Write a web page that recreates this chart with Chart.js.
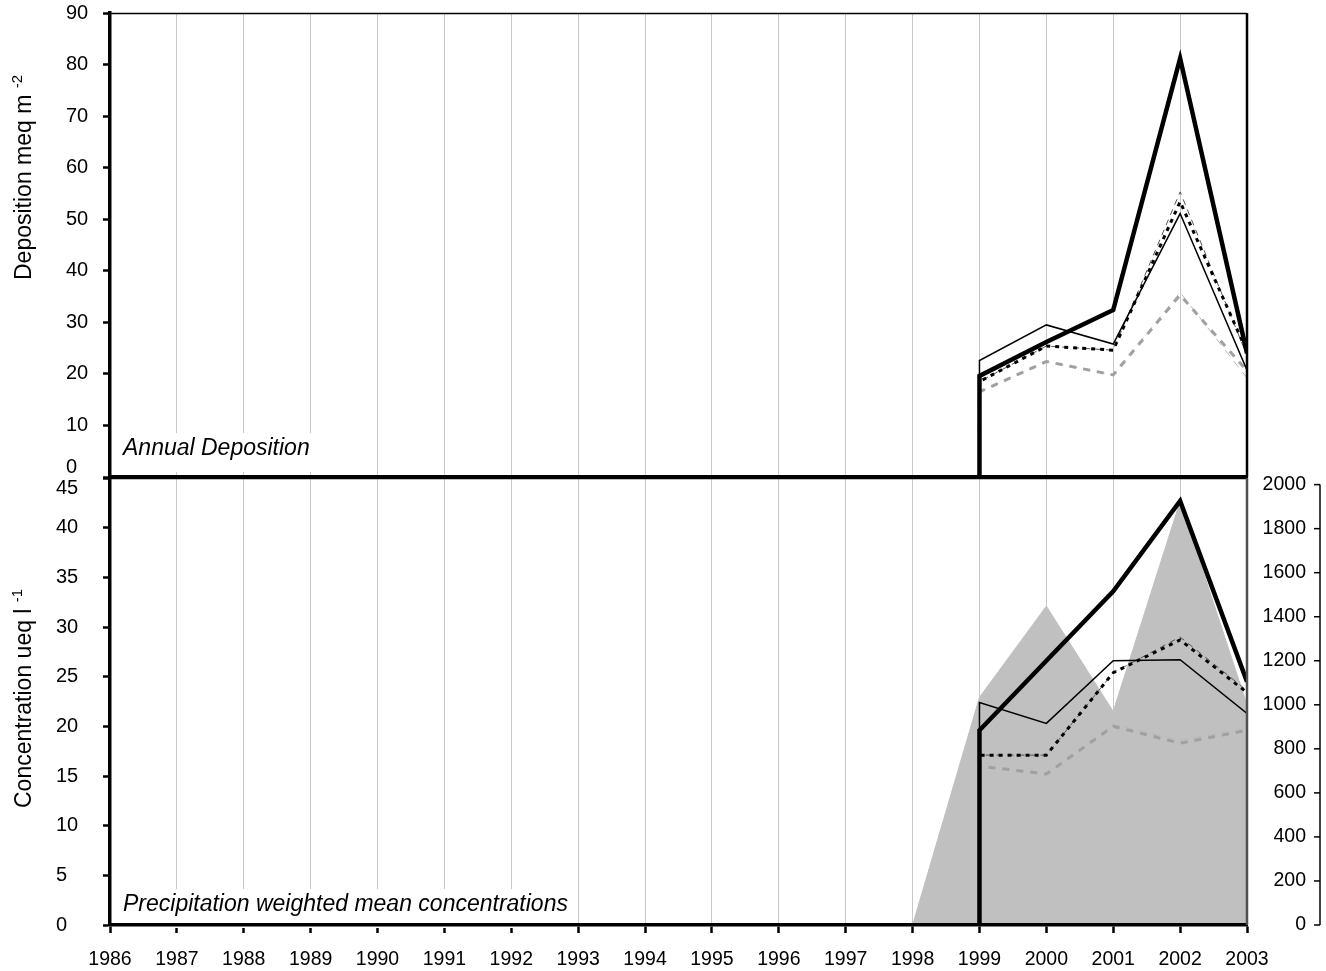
<!DOCTYPE html>
<html>
<head>
<meta charset="utf-8">
<title>Annual deposition and precipitation weighted mean concentrations</title>
<script src="https://cdn.jsdelivr.net/npm/chart.js@4.4.1/dist/chart.umd.min.js"></script>
<style>
  body { margin: 0; background: #fff; }
  #wrap { position: relative; width: 1326px; height: 971px; }
  canvas { position: absolute; left: 0; }
  #depChart { top: 0; }
  #concChart { top: 440px; }
</style>
</head>
<body>
<div id="wrap">
  <canvas id="depChart" width="1326" height="480"></canvas>
  <canvas id="concChart" width="1326" height="531"></canvas>
</div>
<script>
// X axis range (years)
const yearMin = 1986;
const yearMax = 2003;
const sampleYears = [1999, 2000, 2001, 2002, 2003];
const startYear = 1999; // every series rises from zero at the first sampling year

// Annual deposition, meq m-2
const depThick  = [19.6, 26.2, 32.4, 81.2, 24.0];
const depThin   = [22.6, 29.5, 25.8, 51.1, 20.7];
const depDotted = [18.5, 25.4, 24.6, 53.4, 24.3];
const depDashed = [18.5, 25.4, 24.6, 55.3, 23.6];
const depGrey   = [16.5, 22.4, 19.8, 35.3, 20.6];
const depLight  = [16.5, 22.4, 19.8, 35.8, 19.2];

// Precipitation weighted mean concentrations, ueq l-1
const concThick  = [19.6, 26.6, 33.6, 42.7, 24.5];
const concThin   = [22.4, 20.3, 26.6, 26.7, 21.3];
const concDotted = [17.1, 17.1, 25.4, 28.7, 23.4];
const concDashed = [17.1, 17.1, 25.4, 29.0, 23.6];
const concGrey   = [16.0, 15.2, 20.0, 18.3, 19.6];
const concLight  = [16.0, 15.2, 20.2, 18.6, 19.8];

// Precipitation (right axis)
const precipYears  = [1998, 1999, 2000, 2001, 2002, 2003];
const precipValues = [0, 1034, 1448, 970, 1924, 1000];
const precipTicks  = [0, 200, 400, 600, 800, 1000, 1200, 1400, 1600, 1800, 2000];

// Line styles, same order as the series above
const seriesStyles = [
    { color: '#000000', width: 4.5, dash: [] },
    { color: '#000000', width: 1.5, dash: [] },
    { color: '#000000', width: 3,   dash: [4, 5] },
    { color: '#555555', width: 1,   dash: [6, 5] },
    { color: '#a0a0a0', width: 3,   dash: [7, 7] },
    { color: '#b8b8b8', width: 1,   dash: [8, 6] }
];

const FONT = '"Liberation Sans", Arial, sans-serif';

const toPoints = vals => [{ x: startYear, y: 0 }].concat(sampleYears.map((yr, i) => ({ x: yr, y: vals[i] })));

const lineSets = (series, axis) => series.map((vals, i) => ({
    data: toPoints(vals),
    borderColor: seriesStyles[i].color,
    borderWidth: seriesStyles[i].width,
    borderDash: seriesStyles[i].dash,
    pointRadius: 0,
    tension: 0,
    fill: false,
    yAxisID: axis,
    order: i
}));

// Frame, italic note, rotated axis title and the detached right axis
const panelDecor = {
    id: 'panelDecor',
    beforeDatasetsDraw(chart, args, opts) {
        const { ctx, chartArea } = chart;
        const y = chartArea.bottom - opts.noteRise;
        ctx.save();
        ctx.font = 'italic 23px ' + FONT;
        const w = ctx.measureText(opts.note).width;
        ctx.fillStyle = '#fff';
        ctx.fillRect(chartArea.left + 6, y - 22, w + 16, 39);
        ctx.fillStyle = '#000';
        ctx.fillText(opts.note, chartArea.left + 13, y);
        ctx.restore();
    },
    afterDraw(chart, args, opts) {
        const { ctx, chartArea } = chart;
        ctx.save();
        ctx.strokeStyle = '#000';
        ctx.lineWidth = 1.5;
        ctx.beginPath();
        ctx.moveTo(chartArea.left, chartArea.top + 0.5);
        ctx.lineTo(chartArea.right, chartArea.top + 0.5);
        ctx.stroke();
        ctx.strokeStyle = opts.frameColor;
        ctx.lineWidth = 2.5;
        ctx.beginPath();
        ctx.moveTo(chartArea.right, chartArea.top);
        ctx.lineTo(chartArea.right, chartArea.bottom);
        ctx.stroke();

        ctx.translate(25, opts.titleStart);
        ctx.rotate(-Math.PI / 2);
        ctx.fillStyle = '#000';
        ctx.textBaseline = 'middle';
        ctx.font = '23px ' + FONT;
        ctx.fillText(opts.title, 0, 0);
        const tw = ctx.measureText(opts.title + ' ').width;
        ctx.font = '15px ' + FONT;
        ctx.fillText(opts.sup, tw, -7);
        ctx.restore();

        if (opts.rightAxis) {
            const s = chart.scales.y2;
            const ax = chartArea.right + 73;
            ctx.save();
            ctx.strokeStyle = '#000';
            ctx.lineWidth = 1.5;
            ctx.beginPath();
            ctx.moveTo(ax, s.getPixelForValue(precipTicks[0]));
            ctx.lineTo(ax, s.getPixelForValue(precipTicks[precipTicks.length - 1]));
            ctx.stroke();
            ctx.font = '19.5px ' + FONT;
            ctx.fillStyle = '#000';
            ctx.textAlign = 'right';
            ctx.textBaseline = 'middle';
            precipTicks.forEach(t => {
                const py = s.getPixelForValue(t);
                ctx.beginPath();
                ctx.moveTo(ax - 6, py);
                ctx.lineTo(ax, py);
                ctx.stroke();
                ctx.fillText(String(t), ax - 14, py);
            });
            ctx.restore();
        }
    }
};

// labels at the panel joint are nudged apart with an empty second line
const yAxis = (max, step, width, label) => ({
    min: 0,
    max: max,
    ticks: {
        stepSize: step,
        crossAlign: 'far',
        color: '#000',
        font: { family: FONT, size: 20, lineHeight: 1 },
        callback: label
    },
    grid: { drawOnChartArea: false, tickLength: 7, tickColor: '#000', tickWidth: 2.5 },
    border: { color: '#000', width: 3.5, z: 1 },
    afterFit: s => { s.width = width; s.paddingTop = 0; s.paddingBottom = 0; }
});

// Panel superior: deposición anual
const depChart = new Chart(document.getElementById('depChart'), {
    type: 'line',
    data: {
        datasets: lineSets([depThick, depThin, depDotted, depDashed, depGrey, depLight], 'y')
    },
    options: {
        responsive: false,
        animation: false,
        devicePixelRatio: 1,
        layout: { padding: { left: 66, right: 79, top: 13, bottom: 0 } },
        plugins: {
            legend: { display: false },
            tooltip: { enabled: false },
            panelDecor: {
                note: 'Annual Deposition',
                noteRise: 22,
                title: 'Deposition meq m',
                sup: '-2',
                titleStart: 280,
                frameColor: '#000',
                rightAxis: false
            }
        },
        scales: {
            x: {
                type: 'linear',
                min: yearMin,
                max: yearMax,
                ticks: { display: false, stepSize: 1, maxTicksLimit: 30 },
                grid: { color: '#c8c8c8', lineWidth: 1, drawTicks: false },
                border: { color: '#000', width: 3.5, z: 1 },
                afterFit: s => { s.height = 3; s.paddingLeft = 0; s.paddingRight = 0; }
            },
            y: yAxis(90, 10, 44, v => v === 0 ? ['0', ''] : String(v))
        }
    },
    plugins: [panelDecor]
});

// Panel inferior: concentraciones medias ponderadas y precipitación
const precipSet = {
    data: precipYears.map((yr, i) => ({ x: yr, y: precipValues[i] })),
    yAxisID: 'y2',
    backgroundColor: '#c0c0c0',
    borderColor: '#c0c0c0',
    borderWidth: 1,
    fill: 'origin',
    pointRadius: 0,
    tension: 0,
    order: 10
};

const concChart = new Chart(document.getElementById('concChart'), {
    type: 'line',
    data: {
        datasets: lineSets([concThick, concThin, concDotted, concDashed, concGrey, concLight], 'y').concat([precipSet])
    },
    options: {
        responsive: false,
        animation: false,
        devicePixelRatio: 1,
        layout: { padding: { left: 56, right: 79, top: 38, bottom: 0 } },
        plugins: {
            legend: { display: false },
            tooltip: { enabled: false },
            panelDecor: {
                note: 'Precipitation weighted mean concentrations',
                noteRise: 14,
                title: 'Concentration ueq l',
                sup: '-1',
                titleStart: 368,
                frameColor: '#505050',
                rightAxis: true
            }
        },
        scales: {
            x: {
                type: 'linear',
                min: yearMin,
                max: yearMax,
                ticks: {
                    stepSize: 1,
                    maxTicksLimit: 30,
                    autoSkip: false,
                    maxRotation: 0,
                    padding: 15,
                    color: '#000',
                    font: { family: FONT, size: 19.5 },
                    callback: v => String(v)
                },
                grid: { color: '#c8c8c8', lineWidth: 1, tickLength: 8, tickColor: '#000', tickWidth: 2.5 },
                border: { color: '#000', width: 3.5, z: 1 },
                afterFit: s => { s.height = 46; s.paddingLeft = 0; s.paddingRight = 0; }
            },
            y: yAxis(45, 5, 54, v => v === 45 ? ['', '45'] : String(v)),
            y2: {
                type: 'linear',
                position: 'right',
                display: false,
                min: 0,
                max: 2030
            }
        }
    },
    plugins: [panelDecor]
});
</script>
</body>
</html>
